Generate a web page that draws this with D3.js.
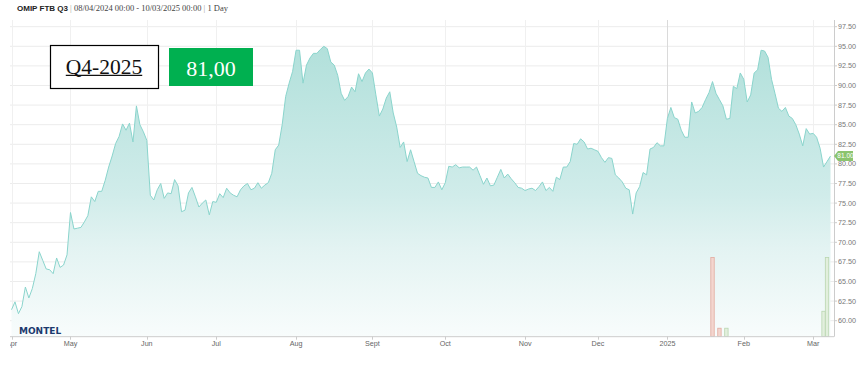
<!DOCTYPE html>
<html>
<head>
<meta charset="utf-8">
<script src="https://cdn.jsdelivr.net/npm/d3@7"></script>
<style>
  html, body { margin: 0; padding: 0; background: #ffffff; }
  svg { display: block; }
</style>
</head>
<body>
<div id="chart"></div>
<script>
// ---------------- DATA ----------------
const startDate = "2024-04-08";
const endDate = "2025-03-10";
const holidays = ["2024-05-01", "2024-12-25", "2024-12-26", "2025-01-01"];

// one closing price per trading session (08/04/2024 .. 10/03/2025)
const prices = [
  61.4, 62.4, 60.9, 61.8, 64.3, 62.9, 64.1, 66.0, 68.8, 67.7,
  66.6, 66.5, 66.0, 68.0, 66.8, 67.1, 68.4, 73.8, 71.7, 71.8,
  71.9, 72.6, 73.4, 75.8, 75.2, 76.5, 76.5, 77.9, 79.6, 81.0,
  82.6, 83.5, 85.1, 84.3, 85.2, 82.8, 87.4, 85.0, 84.1, 83.0,
  76.0, 75.4, 76.7, 77.5, 75.6, 76.3, 76.2, 78.0, 77.2, 73.9,
  74.1, 76.3, 77.0, 75.8, 74.5, 75.0, 75.4, 73.5, 75.2, 75.1,
  76.2, 75.7, 76.9, 76.3, 76.0, 75.8, 76.7, 77.2, 77.5, 76.7,
  76.9, 77.6, 76.9, 77.3, 77.6, 78.8, 81.8, 82.4, 85.0, 88.6,
  90.3, 91.8, 94.5, 94.5, 90.3, 92.6, 93.5, 94.1, 94.1, 94.6,
  95.0, 94.7, 93.0, 92.6, 91.3, 89.0, 88.1, 88.6, 89.8, 89.2,
  91.5, 90.5, 91.6, 92.1, 91.6, 88.8, 86.1, 87.0, 88.4, 89.2,
  86.5, 84.7, 82.1, 82.8, 80.3, 81.8, 80.3, 78.8, 78.5, 78.3,
  78.2, 77.0, 77.0, 77.7, 76.7, 77.6, 79.7, 79.6, 79.9, 79.5,
  79.6, 79.6, 79.6, 79.2, 79.6, 78.5, 77.4, 78.2, 77.2, 77.3,
  78.3, 79.3, 78.2, 78.7, 78.1, 77.6, 77.0, 76.9, 76.6, 76.8,
  76.9, 76.6, 77.1, 77.7, 76.6, 77.0, 76.5, 78.3, 78.0, 79.6,
  79.6, 80.3, 82.6, 82.5, 83.2, 82.8, 81.9, 82.0, 81.8, 81.6,
  80.8, 80.2, 80.8, 80.7, 78.6, 78.2, 77.7, 76.9, 76.7, 73.6,
  76.3, 77.1, 78.9, 78.6, 81.9, 82.1, 82.7, 82.3, 82.3, 85.8,
  87.2, 85.9, 85.7, 84.3, 83.4, 83.4, 87.9, 86.5, 86.7, 87.2,
  88.2, 89.1, 90.5, 89.0, 88.2, 87.4, 85.7, 85.8, 89.9, 89.6,
  91.6, 90.8, 87.9, 88.8, 91.6, 92.0, 94.5, 94.4, 93.6, 90.8,
  89.0, 87.1, 86.7, 87.2, 86.1, 85.8, 85.0, 83.8, 82.3, 84.5,
  83.8, 83.9, 83.4, 82.0, 79.6, 80.3, 81.0
];

const monthLabels = ["Apr", "May", "Jun", "Jul", "Aug", "Sept", "Oct", "Nov", "Dec", "2025", "Feb", "Mar"];
const yTicks = [60, 62.5, 65, 67.5, 70, 72.5, 75, 77.5, 80, 82.5, 85, 87.5, 90, 92.5, 95, 97.5];

// volume bars (session index, volume, direction)
const volSessions = [202, 204, 206, 234, 235];
const volumes = [28, 3, 3, 9, 28];
const volUp = [false, false, true, true, true];

const titleBold = "OMIP FTB Q3";
const titleRange = "08/04/2024 00:00 - 10/03/2025 00:00";
const titleInterval = "1 Day";
const contractLabel = "Q4-2025";
const priceLabel = "81,00";
const lastLabel = "81.00";

// ---------------- LAYOUT ----------------
const W = 864, H = 365;
const plot = { left: 10, right: 834, top: 20, bottom: 336.7 };

const parse = d3.timeParse("%Y-%m-%d");
const fmtDay = d3.timeFormat("%Y-%m-%d");
const holidaySet = new Set(holidays);
const sessions = d3.timeDay.range(parse(startDate), d3.timeDay.offset(parse(endDate), 1))
  .filter(d => d.getDay() !== 0 && d.getDay() !== 6 && !holidaySet.has(fmtDay(d)));

const data = prices.map((v, i) => ({ i, date: sessions[i], v }));

const x = d3.scaleLinear().domain([0, prices.length - 1]).range([11.5, 830.5]);
const y = d3.scaleLinear().domain([60, 97.5]).range([320.7, 26.7]);
const yVol = d3.scaleLinear().domain([0, 112]).range([plot.bottom, plot.top]);

// month ticks = first session of each month
const monthTicks = [];
sessions.forEach((d, i) => {
  if (i === 0 || d.getMonth() !== sessions[i - 1].getMonth()) monthTicks.push(i);
});

const svg = d3.select("#chart").append("svg")
  .attr("width", W).attr("height", H)
  .style("font-family", "'Liberation Sans', Arial, sans-serif");

svg.append("rect").attr("width", W).attr("height", H).attr("fill", "#fff");

const defs = svg.append("defs");
const grad = defs.append("linearGradient").attr("id", "areaGrad")
  .attr("gradientUnits", "userSpaceOnUse")
  .attr("x1", 0).attr("x2", 0).attr("y1", plot.top).attr("y2", plot.bottom);
grad.append("stop").attr("offset", 0).attr("stop-color", "#acdeD8");
grad.append("stop").attr("offset", 0.55).attr("stop-color", "#d0ecea");
grad.append("stop").attr("offset", 0.72).attr("stop-color", "#e3f3f2");
grad.append("stop").attr("offset", 1).attr("stop-color", "#f8fcfc");

defs.append("clipPath").attr("id", "plotClip").append("rect")
  .attr("x", plot.left).attr("y", plot.top)
  .attr("width", plot.right - plot.left).attr("height", plot.bottom - plot.top);
defs.append("clipPath").attr("id", "labelClip").append("rect")
  .attr("x", 10).attr("y", 0).attr("width", W - 10).attr("height", H);

// horizontal grid
svg.append("g").selectAll("line").data(yTicks).join("line")
  .attr("x1", plot.left).attr("x2", plot.right)
  .attr("y1", d => y(d)).attr("y2", d => y(d))
  .attr("stroke", "#ececec").attr("stroke-width", 1);

// vertical grid
svg.append("g").selectAll("line").data(monthTicks).join("line")
  .attr("x1", d => Math.round(x(d)) + 0.5).attr("x2", d => Math.round(x(d)) + 0.5)
  .attr("y1", plot.top).attr("y2", plot.bottom)
  .attr("stroke", (d, k) => monthLabels[k] === "2025" ? "#dadada" : "#f0f0f0")
  .attr("stroke-width", 1);

const gPlot = svg.append("g").attr("clip-path", "url(#plotClip)");

// area + line
gPlot.append("path").datum(data)
  .attr("d", d3.area().x(d => x(d.i)).y0(plot.bottom).y1(d => y(d.v)))
  .attr("fill", "url(#areaGrad)");
gPlot.append("path").datum(data)
  .attr("d", d3.line().x(d => x(d.i)).y(d => y(d.v)))
  .attr("fill", "none").attr("stroke", "#8ad4cc").attr("stroke-width", 1);

// volume bars
const vol = volSessions.map((s, k) => ({ s, v: volumes[k], up: volUp[k] }));
gPlot.append("g").selectAll("rect").data(vol).join("rect")
  .attr("x", d => x(d.s) - 1.7).attr("width", 3.4)
  .attr("y", d => yVol(d.v)).attr("height", d => plot.bottom - yVol(d.v))
  .attr("fill", d => d.up ? "#e2efdd" : "#f3d6cf")
  .attr("stroke", d => d.up ? "#b9d6b0" : "#e2aa9e").attr("stroke-width", 0.8);

// MONTEL logo
svg.append("text").attr("x", 19).attr("y", 334)
  .attr("font-family", "'DejaVu Sans', sans-serif").attr("font-weight", "bold")
  .attr("font-size", 9).attr("fill", "#1c3a6e").text("MONTEL");

// axes lines
svg.append("line").attr("x1", plot.left).attr("x2", plot.right)
  .attr("y1", plot.bottom).attr("y2", plot.bottom).attr("stroke", "#cccccc");
svg.append("line").attr("x1", plot.right + 0.5).attr("x2", plot.right + 0.5)
  .attr("y1", plot.top).attr("y2", plot.bottom).attr("stroke", "#cccccc");

// x ticks + labels
const gx = svg.append("g").attr("clip-path", "url(#labelClip)");
gx.selectAll("line").data(monthTicks).join("line")
  .attr("x1", d => Math.round(x(d)) + 0.5).attr("x2", d => Math.round(x(d)) + 0.5)
  .attr("y1", plot.bottom).attr("y2", plot.bottom + 3)
  .attr("stroke", "#cccccc");
gx.selectAll("text").data(monthTicks).join("text")
  .attr("x", d => x(d)).attr("y", 346)
  .attr("text-anchor", "middle").attr("font-size", 7.2).attr("fill", "#666")
  .text((d, k) => monthLabels[k]);

// y ticks + labels
const gy = svg.append("g");
gy.selectAll("line").data(yTicks).join("line")
  .attr("x1", plot.right).attr("x2", plot.right + 3)
  .attr("y1", d => y(d)).attr("y2", d => y(d)).attr("stroke", "#cccccc");
gy.selectAll("text").data(yTicks).join("text")
  .attr("x", 838).attr("y", d => y(d)).attr("dy", "0.35em")
  .attr("font-size", 7.2).attr("fill", "#777")
  .text(d => d3.format(".2f")(d));

// last price flag
const lastY = y(prices[prices.length - 1]);
svg.append("path")
  .attr("d", `M${plot.right},${lastY} L${plot.right + 4},${lastY - 5} L${plot.right + 19},${lastY - 5} L${plot.right + 19},${lastY + 5} L${plot.right + 4},${lastY + 5} Z`)
  .attr("fill", "#8cc46e");
svg.append("text").attr("x", plot.right + 11.5).attr("y", lastY).attr("dy", "0.35em")
  .attr("text-anchor", "middle").attr("font-size", 6.5).attr("fill", "#fff").text(lastLabel);

// title
const title = svg.append("text").attr("x", 17).attr("y", 11).attr("font-size", 8);
title.append("tspan").attr("font-weight", "bold").attr("fill", "#222").text(titleBold);
title.append("tspan").attr("font-family", "'Liberation Serif', serif").attr("font-size", 8.5).attr("fill", "#999").text(" | ");
title.append("tspan").attr("font-family", "'Liberation Serif', serif").attr("font-size", 8.5).attr("fill", "#444").text(titleRange);
title.append("tspan").attr("font-family", "'Liberation Serif', serif").attr("font-size", 8.5).attr("fill", "#999").text(" | ");
title.append("tspan").attr("font-family", "'Liberation Serif', serif").attr("font-size", 8.5).attr("fill", "#444").text(titleInterval);

// contract box
svg.append("rect").attr("x", 50.5).attr("y", 45.5).attr("width", 108).attr("height", 43)
  .attr("fill", "#fff").attr("stroke", "#000").attr("stroke-width", 1.2);
const ct = svg.append("text").attr("x", 104).attr("y", 73.5).attr("text-anchor", "middle")
  .attr("font-family", "'Liberation Serif', serif").attr("font-size", 21.5).attr("fill", "#111")
  .text(contractLabel);
const bb = ct.node().getBBox();
svg.append("line").attr("x1", bb.x).attr("x2", bb.x + bb.width)
  .attr("y1", 75.3).attr("y2", 75.3).attr("stroke", "#111").attr("stroke-width", 1.2);

// price box
svg.append("rect").attr("x", 169).attr("y", 48).attr("width", 84).attr("height", 38).attr("fill", "#00b050");
svg.append("text").attr("x", 211).attr("y", 75.5).attr("text-anchor", "middle")
  .attr("font-family", "'Liberation Serif', serif").attr("font-size", 22).attr("fill", "#fff")
  .text(priceLabel);
</script>
</body>
</html>
